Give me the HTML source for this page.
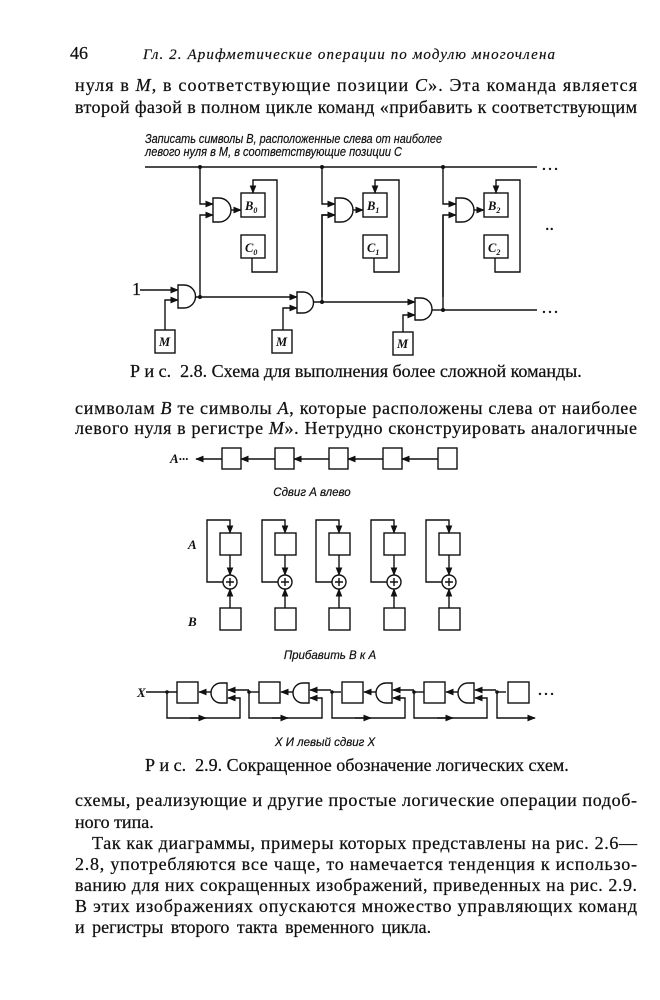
<!DOCTYPE html>
<html><head><meta charset="utf-8"><style>
html,body{margin:0;padding:0;background:#fff;}
svg{display:block}
.b{font-family:"Liberation Serif","Noto Serif CJK SC",serif;font-size:18px;fill:#111;stroke:#111;stroke-width:0.25}
.i{font-family:"Liberation Serif","Noto Serif CJK SC",serif;font-style:italic;fill:#111}
.s{font-family:"Liberation Sans","Noto Sans CJK SC",sans-serif;font-style:italic;fill:#111;stroke:#111;stroke-width:0.2}
</style></head><body>
<svg width="660" height="1000" viewBox="0 0 660 1000" xmlns="http://www.w3.org/2000/svg">
<defs>
<marker id="a" viewBox="0 0 10 10" refX="9" refY="5" markerWidth="6" markerHeight="6" orient="auto"><path d="M0,1 L10,5 L0,9 z" fill="#111"/></marker>
</defs>
<rect width="660" height="1000" fill="#fff"/>
<text x="70" y="59" class="b" font-size="15">46</text>
<text x="143" y="59" class="i" font-size="15" textLength="412" lengthAdjust="spacing" stroke="#111" stroke-width="0.2">Гл. 2. Арифметические операции по модулю многочлена</text>
<text x="75" y="91" class="b" textLength="562" lengthAdjust="spacing">нуля в <tspan font-style="italic">M</tspan>, в соответствующие позиции <tspan font-style="italic">C</tspan>». Эта команда является</text>
<text x="75" y="113" class="b" textLength="562" lengthAdjust="spacing">второй фазой в полном цикле команд «прибавить к соответствующим</text>

<text x="145" y="143" class="s" font-size="12.5" textLength="297" lengthAdjust="spacingAndGlyphs">Записать символы B, расположенные слева от наиболее</text>
<text x="145" y="156" class="s" font-size="12.5" textLength="257" lengthAdjust="spacingAndGlyphs">левого нуля в M, в соответствующие позиции C</text>
<g stroke="#111" stroke-width="1.4" fill="none">
<line x1="145" y1="167" x2="537" y2="167"/>
<line x1="443" y1="310" x2="537" y2="310"/>
<g id="col">
<path d="M200,167 V204 H213" marker-end="url(#a)"/>
<path d="M200,297 V215 H213" marker-end="url(#a)"/>
<path d="M213,198 H219 A12,12 0 0 1 219,222 H213 Z" fill="#fff"/>
<path d="M231,210 H241" marker-end="url(#a)"/>
<rect x="241" y="193" width="24" height="24" fill="#fff"/>
<rect x="241" y="235" width="24" height="23" fill="#fff"/>
<path d="M252,258 V272 H277 V180 H253 V193" marker-end="url(#a)"/>
</g>
<use href="#col" transform="translate(122,0)"/>
<path d="M322,302 V215 H335" marker-end="url(#a)"/>
<use href="#col" transform="translate(243,0)"/>
<line x1="443" y1="215" x2="443" y2="310"/>
<path d="M140,290 H178" marker-end="url(#a)"/>
<path d="M165,330 V300 H178" marker-end="url(#a)"/>
<path d="M178,285 H184 A11.5,11.5 0 0 1 184,308 H178 Z" fill="#fff"/>
<rect x="155" y="330" width="20" height="23"/>
<path d="M195,297 H297" marker-end="url(#a)"/>
<path d="M283,330 V308 H297" marker-end="url(#a)"/>
<path d="M297,292 H303 A10.5,10.5 0 0 1 303,313 H297 Z" fill="#fff"/>
<rect x="272" y="330" width="20" height="23"/>
<path d="M313,302 H415" marker-end="url(#a)"/>
<path d="M403,332 V315 H415" marker-end="url(#a)"/>
<path d="M415,298 H421 A11,11 0 0 1 421,320 H415 Z" fill="#fff"/>
<rect x="393" y="332" width="20" height="23"/>
<line x1="432" y1="310" x2="443" y2="310"/>
</g>
<g fill="#111">
<circle cx="200" cy="167" r="2"/><circle cx="322" cy="167" r="2"/><circle cx="443" cy="167" r="2"/>
<circle cx="200" cy="297" r="2"/><circle cx="322" cy="302" r="2"/><circle cx="443" cy="310" r="2"/>
</g>
<text x="541" y="170" class="b" font-size="14">…</text>
<text x="541" y="313" class="b" font-size="14">…</text>
<text x="545" y="230" class="b" font-size="14">..</text>
<text x="132" y="295" class="b" font-size="14">1</text>
<g class="i" font-size="12.5" font-weight="bold">
<text x="245" y="210">B<tspan font-size="8" dy="3">0</tspan></text>
<text x="245" y="252">C<tspan font-size="8" dy="3">0</tspan></text>
<text x="367" y="210">B<tspan font-size="8" dy="3">1</tspan></text>
<text x="367" y="252">C<tspan font-size="8" dy="3">1</tspan></text>
<text x="488" y="210">B<tspan font-size="8" dy="3">2</tspan></text>
<text x="488" y="252">C<tspan font-size="8" dy="3">2</tspan></text>
<text x="159" y="346">M</text><text x="276" y="346">M</text><text x="397" y="348">M</text>
</g>
<text x="130" y="377" class="b" font-size="14.5" stroke-width="0.15">Р и с.&#160; 2.8. Схема для выполнения более сложной команды.</text>

<text x="75" y="414" class="b" textLength="562" lengthAdjust="spacing">символам <tspan font-style="italic">B</tspan> те символы <tspan font-style="italic">A</tspan>, которые расположены слева от наиболее</text>
<text x="75" y="434" class="b" textLength="562" lengthAdjust="spacing">левого нуля в регистре <tspan font-style="italic">M</tspan>». Нетрудно сконструировать аналогичные</text>

<text x="170" y="463" class="i" font-size="13" font-weight="bold">A···</text>
<g stroke="#111" stroke-width="1.4" fill="none">
<path d="M222,459 H196" marker-end="url(#a)"/>
<rect x="222" y="448" width="19" height="21"/>
<path d="M275,459 H241" marker-end="url(#a)"/>
<rect x="275" y="448" width="19" height="21"/>
<path d="M329,459 H294" marker-end="url(#a)"/>
<rect x="329" y="448" width="19" height="21"/>
<path d="M383,459 H348" marker-end="url(#a)"/>
<rect x="383" y="448" width="19" height="21"/>
<path d="M438,459 H402" marker-end="url(#a)"/>
<rect x="438" y="448" width="19" height="21"/>
</g>
<text x="312" y="496" class="s" font-size="11.5" text-anchor="middle">Сдвиг А влево</text>

<g stroke="#111" stroke-width="1.4" fill="none" id="ad">
<path d="M223,582 H207 V520 H230 V533" marker-end="url(#a)"/>
<rect x="220" y="533" width="21" height="22"/>
<path d="M230,555 V575" marker-end="url(#a)"/>
<circle cx="230" cy="582" r="7" fill="#fff"/>
<path d="M226,582 H234 M230,578 V586"/>
<path d="M230,608 V589" marker-end="url(#a)"/>
<rect x="220" y="608" width="21" height="22"/>
</g>
<use href="#ad" transform="translate(55,0)"/>
<use href="#ad" transform="translate(109,0)"/>
<use href="#ad" transform="translate(164,0)"/>
<use href="#ad" transform="translate(219,0)"/>
<text x="188" y="549" class="i" font-size="13" font-weight="bold">A</text>
<text x="188" y="626" class="i" font-size="13" font-weight="bold">B</text>
<text x="330" y="659" class="s" font-size="11.5" text-anchor="middle">Прибавить В к А</text>

<text x="137" y="697" class="i" font-size="13" font-weight="bold">X</text>
<g stroke="#111" stroke-width="1.4" fill="none">
<line x1="146" y1="692" x2="177" y2="692"/>
<g id="st">
<rect x="177" y="682" width="21" height="21"/>
<path d="M213,692 H199" marker-end="url(#a)"/>
<path d="M227,683 H221 A10,10 0 0 0 221,703 H227 Z" fill="#fff"/>
<path d="M249,690 H228" marker-end="url(#a)"/>
<path d="M167,692 V718 H240 V698 H228" marker-end="url(#a)"/>
<path d="M190,718 H206" marker-end="url(#a)"/>
<line x1="249" y1="692" x2="259" y2="692"/>
</g>
<use href="#st" transform="translate(82,0)"/>
<use href="#st" transform="translate(165,0)"/>
<use href="#st" transform="translate(247,0)"/>
<rect x="508" y="682" width="21" height="21"/>
<path d="M497,692 V718 H535" marker-end="url(#a)"/>
</g>
<g fill="#111"><circle cx="167" cy="692" r="1.8"/><circle cx="249" cy="692" r="1.8"/><circle cx="332" cy="692" r="1.8"/><circle cx="414" cy="692" r="1.8"/><circle cx="497" cy="692" r="1.8"/></g>
<text x="537" y="695" class="b" font-size="14">…</text>
<text x="325" y="746" class="s" font-size="11.5" text-anchor="middle">X И левый сдвиг X</text>
<text x="145" y="771" class="b" font-size="14.5" stroke-width="0.15">Р и с.&#160; 2.9. Сокращенное обозначение логических схем.</text>

<text x="75" y="806" class="b" textLength="562" lengthAdjust="spacing">схемы, реализующие и другие простые логические операции подоб-</text>
<text x="75" y="828" class="b">ного типа.</text>
<text x="92" y="849" class="b" textLength="545" lengthAdjust="spacing">Так как диаграммы, примеры которых представлены на рис. 2.6—</text>
<text x="75" y="870" class="b" textLength="562" lengthAdjust="spacing">2.8, употребляются все чаще, то намечается тенденция к использо-</text>
<text x="75" y="891" class="b" textLength="562" lengthAdjust="spacing">ванию для них сокращенных изображений, приведенных на рис. 2.9.</text>
<text x="75" y="912" class="b" textLength="562" lengthAdjust="spacing">В этих изображениях опускаются множество управляющих команд</text>
<text x="75" y="933" class="b" word-spacing="3">и регистры второго такта временного цикла.</text>
</svg>
</body></html>
